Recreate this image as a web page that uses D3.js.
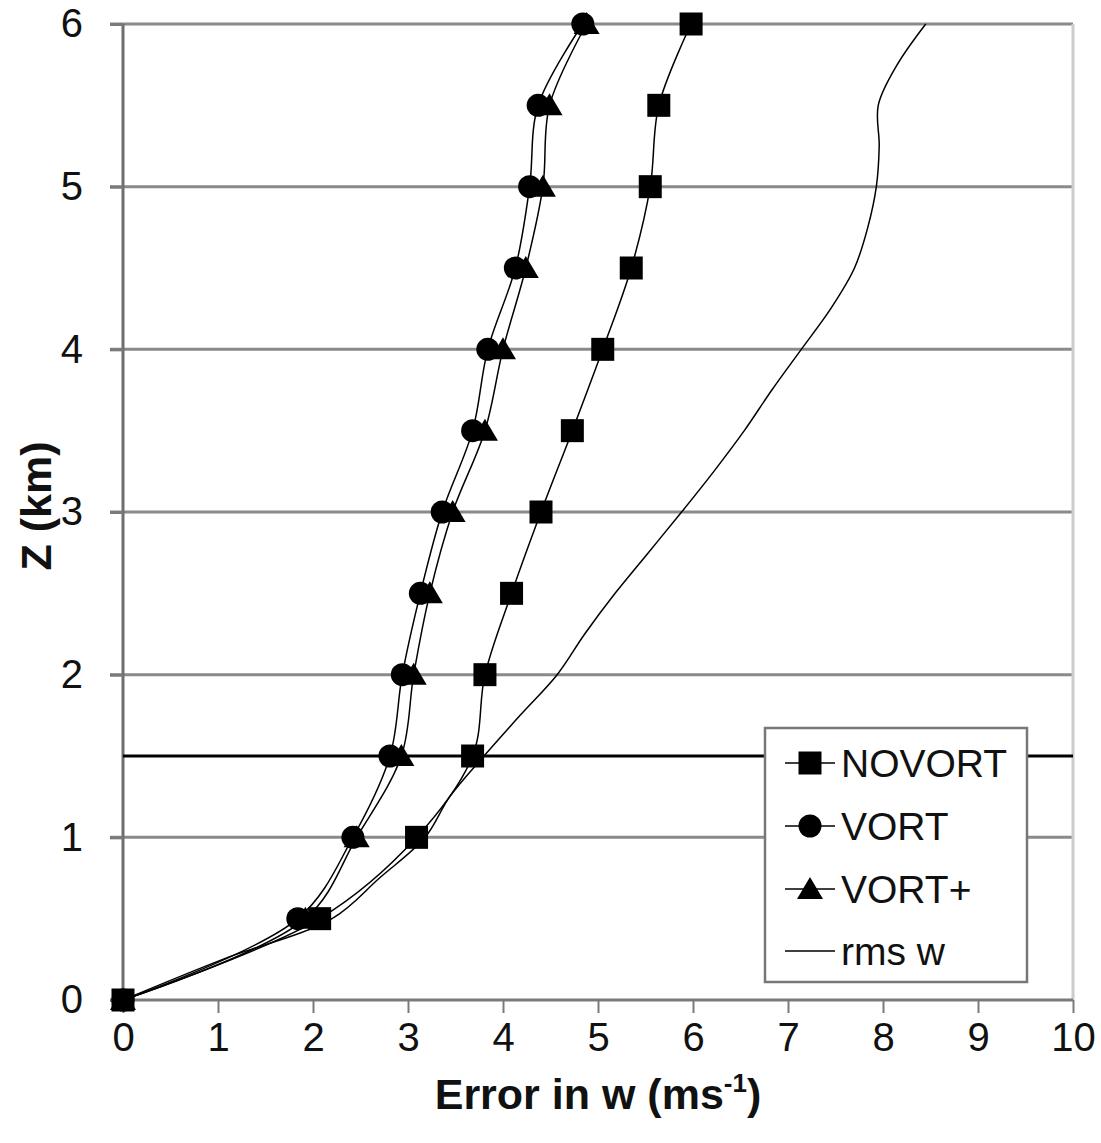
<!DOCTYPE html>
<html>
<head>
<meta charset="utf-8">
<script src="https://cdn.jsdelivr.net/npm/d3@7"></script>
<style>
  html, body { margin: 0; padding: 0; background: #fff; }
  svg { display: block; font-family: Arial, "Liberation Sans", Helvetica, sans-serif; }
</style>
</head>
<body>
<svg id="chart" width="1101" height="1143"></svg>
<script>
// Height levels (km) where the three retrievals are sampled
const zLevels = [0, 0.5, 1, 1.5, 2, 2.5, 3, 3.5, 4, 4.5, 5, 5.5, 6];

// Error in w (m/s) for each retrieval
const novort   = [0, 2.07, 3.09, 3.68, 3.81, 4.09, 4.40, 4.73, 5.05, 5.35, 5.55, 5.64, 5.98];
const vort     = [0, 1.84, 2.42, 2.81, 2.94, 3.13, 3.36, 3.68, 3.84, 4.13, 4.28, 4.37, 4.84];
const vortPlus = [0, 1.92, 2.46, 2.93, 3.06, 3.23, 3.47, 3.81, 4.00, 4.24, 4.42, 4.49, 4.88];

// rms of w profile, on a finer height grid
const rmsZ = [0, 0.25, 0.5, 0.75, 1, 1.25, 1.5, 1.75, 2, 2.25, 2.5, 2.75, 3,
              3.25, 3.5, 3.75, 4, 4.25, 4.5, 4.75, 5, 5.25, 5.5, 5.75, 6];
const rmsW = [0, 1.05, 2.2, 2.7, 3.18, 3.44, 3.8, 4.18, 4.57, 4.86, 5.18, 5.53, 5.88,
              6.22, 6.54, 6.83, 7.14, 7.45, 7.70, 7.84, 7.93, 7.96, 7.95, 8.15, 8.45];

// Axis ticks and labels
const xTicks = [0, 1, 2, 3, 4, 5, 6, 7, 8, 9, 10];
const zTicks = [0, 1, 2, 3, 4, 5, 6];
const refLevel = 1.5;
const legendNames = ["NOVORT", "VORT", "VORT+", "rms w"];

const svg = d3.select("#chart");
const x = d3.scaleLinear().domain([0, 10]).range([123, 1073]);
const y = d3.scaleLinear().domain([0, 6]).range([1000, 24]);

// horizontal gridlines with left tick stubs
const grid = svg.append("g");
grid.selectAll("line").data(zTicks.filter(d => d > 0)).join("line")
  .attr("x1", x(0) - 13).attr("x2", x(10))
  .attr("y1", d => y(d)).attr("y2", d => y(d))
  .attr("stroke", "#8a8a8a").attr("stroke-width", 3);

// right frame edge
svg.append("line")
  .attr("x1", x(10)).attr("x2", x(10)).attr("y1", y(6)).attr("y2", y(0))
  .attr("stroke", "#cccccc").attr("stroke-width", 3);

// x axis
const xAxis = d3.axisBottom(x).tickValues(xTicks).tickSize(13).tickPadding(10).tickFormat(d3.format("d"));
const gx = svg.append("g").attr("transform", `translate(0,${y(0)})`).call(xAxis);
gx.select(".domain").attr("stroke", "#7a7a7a").attr("stroke-width", 3)
  .attr("d", `M${x(0) - 13},0H${x(10)}`);
gx.selectAll(".tick line").attr("stroke", "#7a7a7a").attr("stroke-width", 2);
gx.selectAll(".tick text").attr("font-size", 40).attr("fill", "#111")
  .attr("font-family", "Arial, 'Liberation Sans', sans-serif").attr("dy", "0.71em");

// y axis
const yAxis = d3.axisLeft(y).tickValues(zTicks).tickSize(13).tickPadding(27).tickFormat(d3.format("d"));
const gy = svg.append("g").attr("transform", `translate(${x(0)},0)`).call(yAxis);
gy.select(".domain").attr("stroke", "#6e6e6e").attr("stroke-width", 3)
  .attr("d", `M0,${y(6)}V${y(0)}`);
gy.selectAll(".tick line").attr("stroke", "#7a7a7a").attr("stroke-width", 3);
gy.selectAll(".tick text").attr("font-size", 40).attr("fill", "#111")
  .attr("font-family", "Arial, 'Liberation Sans', sans-serif");

// reference level line
svg.append("line")
  .attr("x1", x(0)).attr("x2", x(10)).attr("y1", y(refLevel)).attr("y2", y(refLevel))
  .attr("stroke", "#000").attr("stroke-width", 3);

// axis titles
svg.append("text")
  .attr("x", 598).attr("y", 1109).attr("text-anchor", "middle")
  .attr("font-size", 43).attr("font-weight", "bold").attr("fill", "#111")
  .call(t => {
    t.append("tspan").text("Error in w (ms");
    t.append("tspan").attr("font-size", 26).attr("dy", -17).text("-1");
    t.append("tspan").attr("dy", 17).text(")");
  });
svg.append("text")
  .attr("transform", "translate(51,506) rotate(-90)").attr("text-anchor", "middle")
  .attr("font-size", 43).attr("font-weight", "bold").attr("fill", "#111")
  .text("Z (km)");

// series
const curve = d3.curveCatmullRom.alpha(0.5);
const profile = d3.line().x(d => x(d[0])).y(d => y(d[1])).curve(curve);

const rmsPts = rmsW.map((w, i) => [w, rmsZ[i]]);
svg.append("path").attr("d", profile(rmsPts))
  .attr("fill", "none").attr("stroke", "#000").attr("stroke-width", 1.5);

const square = d3.symbol().type(d3.symbolSquare).size(23 * 23);
const circle = d3.symbol().type(d3.symbolCircle).size(Math.PI * 11.5 * 11.5);
const triangle = "M0,-12L13,10L-13,10Z";

const series = [
  { name: legendNames[0], vals: novort, shape: square() },
  { name: legendNames[1], vals: vort, shape: circle() },
  { name: legendNames[2], vals: vortPlus, shape: triangle }
];

series.forEach(s => {
  const pts = s.vals.map((w, i) => [w, zLevels[i]]);
  svg.append("path").attr("d", profile(pts))
    .attr("fill", "none").attr("stroke", "#000").attr("stroke-width", 1.5);
});
series.forEach(s => {
  const pts = s.vals.map((w, i) => [w, zLevels[i]]);
  svg.append("g").selectAll("path").data(pts).join("path")
    .attr("d", s.shape)
    .attr("transform", d => `translate(${x(d[0])},${y(d[1])})`)
    .attr("fill", "#000");
});

// legend
const lg = svg.append("g");
lg.append("rect").attr("x", 765).attr("y", 728).attr("width", 262).attr("height", 254)
  .attr("fill", "#fff").attr("stroke", "#777").attr("stroke-width", 2.5);
const rowsY = [763, 826, 889, 951];
const legendShapes = [square(), circle(), triangle, null];
legendNames.forEach((name, i) => {
  const cy = rowsY[i];
  lg.append("line").attr("x1", 785).attr("x2", 835).attr("y1", cy).attr("y2", cy)
    .attr("stroke", "#000").attr("stroke-width", 1.5);
  if (legendShapes[i]) {
    lg.append("path").attr("d", legendShapes[i])
      .attr("transform", `translate(810,${cy})`).attr("fill", "#000");
  }
  lg.append("text").attr("x", 841).attr("y", cy + 14)
    .attr("font-size", 39).attr("fill", "#111").text(name);
});
</script>
</body>
</html>
